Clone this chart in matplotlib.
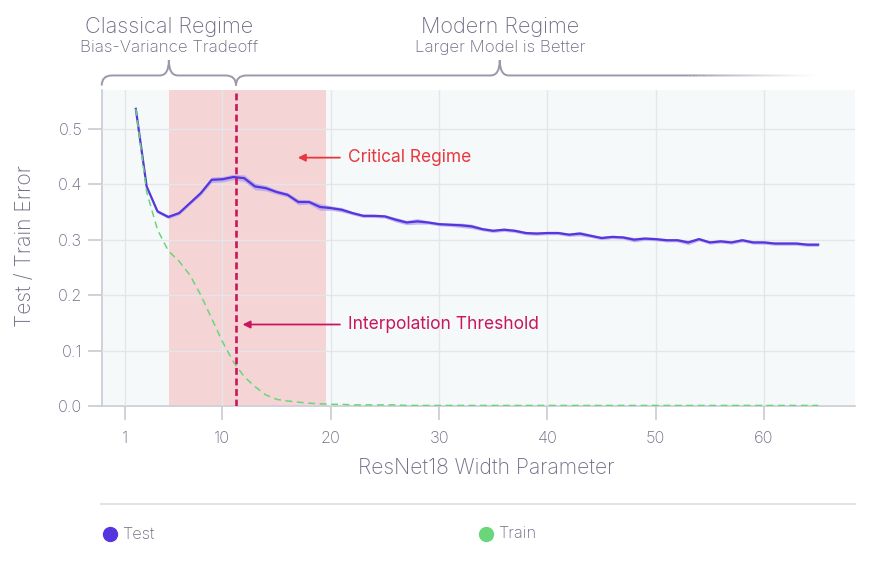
import matplotlib
matplotlib.use("Agg")
import matplotlib.pyplot as plt
import numpy as np
from matplotlib.path import Path
from matplotlib.patches import PathPatch
from matplotlib.lines import Line2D
from matplotlib.collections import LineCollection
import matplotlib.transforms as mtransforms

plt.rcParams['font.family'] = ['Inter', 'DejaVu Sans']
plt.rcParams['font.weight'] = 'light'
plt.rcParams['axes.labelweight'] = 'light'

# width parameter (as placed on the chart's x axis)
widths = list(range(2, 66))

test_err = [0.536, 0.396, 0.351, 0.341, 0.348, 0.366, 0.384, 0.408, 0.409, 0.413,
            0.411, 0.396, 0.393, 0.386, 0.381, 0.368, 0.368, 0.359, 0.357, 0.354,
            0.348, 0.343, 0.343, 0.342, 0.336, 0.331, 0.333, 0.331, 0.328, 0.327,
            0.326, 0.324, 0.319, 0.316, 0.318, 0.316, 0.312, 0.311, 0.312, 0.312,
            0.309, 0.311, 0.307, 0.303, 0.305, 0.304, 0.300, 0.302, 0.301, 0.299,
            0.299, 0.295, 0.301, 0.295, 0.297, 0.295, 0.299, 0.295, 0.295, 0.293,
            0.293, 0.293, 0.291, 0.291]
test_spread = [0.002, 0.002, 0.003, 0.003, 0.003, 0.003, 0.004, 0.005, 0.005, 0.005,
               0.006, 0.006, 0.005, 0.004, 0.004, 0.005, 0.004, 0.006, 0.004, 0.004,
               0.003, 0.003, 0.003, 0.003, 0.004, 0.004, 0.005, 0.003, 0.003, 0.003,
               0.004, 0.004, 0.003, 0.003, 0.003, 0.003, 0.003, 0.003, 0.003, 0.003,
               0.003, 0.004, 0.003, 0.003, 0.003, 0.003, 0.004, 0.003, 0.003, 0.003,
               0.003, 0.004, 0.003, 0.003, 0.003, 0.003, 0.003, 0.003, 0.003, 0.003,
               0.003, 0.003, 0.003, 0.003]
train_err = [0.536, 0.386, 0.318, 0.280, 0.261, 0.236, 0.200, 0.158, 0.116, 0.080,
             0.053, 0.035, 0.020, 0.012, 0.009, 0.007, 0.005, 0.004, 0.003, 0.003,
             0.002, 0.002, 0.002, 0.002, 0.002, 0.001, 0.001, 0.001, 0.001, 0.001,
             0.001, 0.001, 0.001, 0.001, 0.001, 0.001, 0.001, 0.001, 0.001, 0.001,
             0.001, 0.001, 0.001, 0.001, 0.001, 0.001, 0.001, 0.001, 0.001, 0.001,
             0.001, 0.001, 0.001, 0.001, 0.001, 0.001, 0.001, 0.001, 0.001, 0.001,
             0.001, 0.001, 0.001, 0.001]

x_ticks = [1, 10, 20, 30, 40, 50, 60]
y_ticks = [0.0, 0.1, 0.2, 0.3, 0.4, 0.5]
critical_span = (5.1, 19.6)
interp_threshold = 11.25

TEST_C = '#5535dd'
TRAIN_C = '#6ad67a'
GRAY = '#6f6d84'
LIGHT = '#c9c9d3'

fig = plt.figure(figsize=(8.77, 5.62), dpi=100)
ax = fig.add_axes([101.7 / 877, 156 / 562, 753.3 / 877, 316 / 562])
ax.set_facecolor('#f5f9fa')

ax.axvspan(*critical_span, color='#f5d4d6', zorder=1, lw=0)

lo = np.array(test_err) - np.array(test_spread)
hi = np.array(test_err) + np.array(test_spread)
ax.fill_between(widths, lo, hi, color='#b3a0ec', alpha=0.75, lw=0, zorder=3)
ax.plot(widths, test_err, color=TEST_C, lw=1.6, zorder=4)
ax.plot(widths, train_err, color=TRAIN_C, lw=1.1, dashes=(4.5, 3), zorder=4)

ax.axvline(interp_threshold, color='#c8175d', lw=1.9, dashes=(2.6, 1.4), zorder=5)

ax.set_xlim(-1.15, 68.4)
ax.set_ylim(0, 0.57)
ax.set_xticks(x_ticks)
ax.set_yticks(y_ticks)
ax.set_yticklabels(['%.1f' % v for v in y_ticks])
ax.grid(True, color='#e4e6ea', lw=1)
ax.set_axisbelow(False)
for g in ax.get_xgridlines() + ax.get_ygridlines():
    g.set_zorder(2)
ax.tick_params(length=10, width=1.2, color=LIGHT, labelcolor=GRAY, labelsize=11.8)
ax.tick_params(axis='x', pad=8)
ax.tick_params(axis='y', pad=4)
for s in ['top', 'right']:
    ax.spines[s].set_visible(False)
for s in ['left', 'bottom']:
    ax.spines[s].set_color(LIGHT)
    ax.spines[s].set_linewidth(1.2)

ax.set_xlabel('ResNet18 Width Parameter', fontsize=15.2, color=GRAY)
ax.set_ylabel('Test / Train Error', fontsize=15.2, color=GRAY)
ax.xaxis.set_label_coords(0.511, -0.163)
ax.yaxis.set_label_coords(-0.088, 0.505)

# annotations
ax.annotate('', xy=(16.7, 0.448), xytext=(21.1, 0.448),
            arrowprops=dict(arrowstyle='-|>', color='#e8383d', lw=1.3, mutation_scale=11))
ax.text(21.6, 0.448, 'Critical Regime', color='#e8383d', fontsize=12.5, va='center',
        fontweight='normal')
ax.annotate('', xy=(11.6, 0.147), xytext=(21.1, 0.147),
            arrowprops=dict(arrowstyle='-|>', color='#c8175d', lw=1.3, mutation_scale=11))
ax.text(21.6, 0.147, 'Interpolation Threshold', color='#c8175d', fontsize=12.5, va='center',
        fontweight='normal')

# braces above the plot
trans = mtransforms.blended_transform_factory(ax.transData, ax.transAxes)
y_low, y_mid, y_top = 1.014, 1.046, 1.094
r_end, r_tip = 0.95, 0.85
BRACE_C = '#9a98aa'


def brace(x0, xt, x1, fade_from=None):
    verts = [(x0, y_low), (x0, y_mid), (x0 + r_end, y_mid),
             (xt - r_tip, y_mid), (xt, y_mid), (xt, y_top),
             (xt, y_mid), (xt + r_tip, y_mid)]
    codes = [Path.MOVETO, Path.CURVE3, Path.CURVE3,
             Path.LINETO, Path.CURVE3, Path.CURVE3,
             Path.CURVE3, Path.CURVE3]
    if fade_from is None:
        verts += [(x1 - r_end, y_mid), (x1, y_mid), (x1, y_low)]
        codes += [Path.LINETO, Path.CURVE3, Path.CURVE3]
    else:
        verts += [(fade_from, y_mid)]
        codes += [Path.LINETO]
    p = PathPatch(Path(verts, codes), fill=False, edgecolor=BRACE_C, lw=1.4,
                  transform=trans, clip_on=False, snap=False, capstyle='butt')
    ax.add_patch(p)
    if fade_from is not None:
        xs = np.linspace(fade_from, x1, 40)
        segs = [[(xs[i], y_mid), (xs[i + 1], y_mid)] for i in range(len(xs) - 1)]
        alphas = np.linspace(1, 0, len(segs)) ** 1.3
        cols = [matplotlib.colors.to_rgba(BRACE_C, a) for a in alphas]
        lc = LineCollection(segs, colors=cols, lw=1.4, transform=trans, clip_on=False,
                            capstyle='butt', snap=False)
        ax.add_collection(lc)


brace(-1.15, 5.05, interp_threshold)
brace(interp_threshold, 35.6, 65.2, fade_from=53.0)

ax.text(5.05, 1.198, 'Classical Regime', transform=trans, ha='center', va='center',
        fontsize=15.6, color=GRAY)
ax.text(5.05, 1.133, 'Bias-Variance Tradeoff', transform=trans, ha='center', va='center',
        fontsize=12.2, color=GRAY)
ax.text(35.6, 1.198, 'Modern Regime', transform=trans, ha='center', va='center',
        fontsize=15.6, color=GRAY)
ax.text(35.6, 1.133, 'Larger Model is Better', transform=trans, ha='center', va='center',
        fontsize=12.2, color=GRAY)

# legend at the bottom
fig.add_artist(Line2D([101 / 877, 855 / 877], [58 / 562, 58 / 562], color='#dedee4', lw=1.3))
fig.add_artist(Line2D([110 / 877], [28 / 562], marker='o', ms=10, color=TEST_C, lw=0))
fig.text(122 / 877, 28 / 562, 'Test', fontsize=11.8, color=GRAY, va='center')
fig.add_artist(Line2D([486 / 877], [28 / 562], marker='o', ms=10, color=TRAIN_C, lw=0))
fig.text(498 / 877, 28 / 562, 'Train', fontsize=11.8, color=GRAY, va='center')

fig.savefig('out.png', dpi=100)
